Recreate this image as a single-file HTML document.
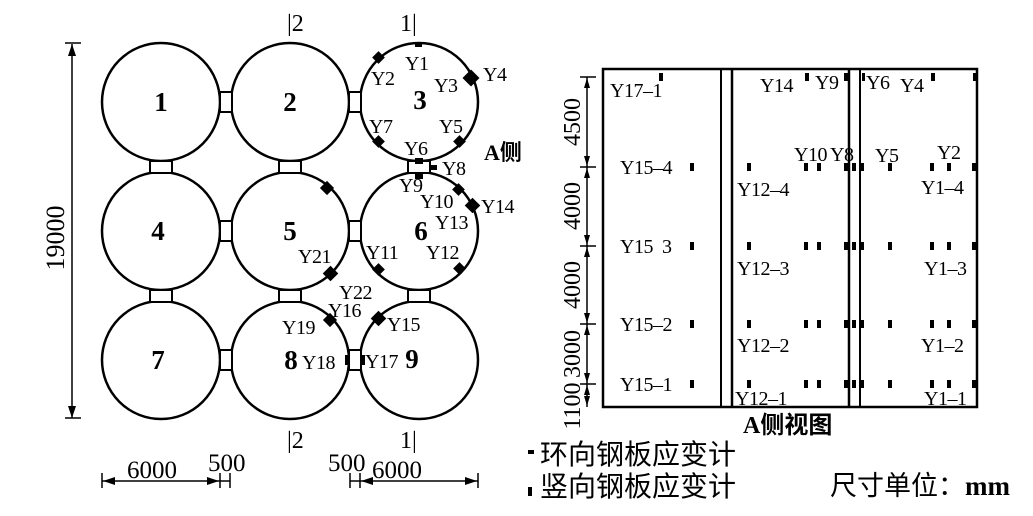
<!DOCTYPE html>
<html><head><meta charset="utf-8"><style>
html,body{margin:0;padding:0;background:#fff;}
svg{display:block;}
text{font-family:"Liberation Serif","Noto Serif CJK SC",serif;fill:#000;}
.n{font-size:27px;font-weight:bold;}
.l{font-size:20px;letter-spacing:-0.5px;}
.d{font-size:24px;}
.c{font-family:"Liberation Serif","Noto Sans CJK SC",sans-serif;font-size:22px;}
</style></head><body>
<svg width="1033" height="516" viewBox="0 0 1033 516" xmlns="http://www.w3.org/2000/svg">
<g fill="none" stroke="#000" stroke-width="2.5">
<circle cx="161" cy="102" r="59"/><circle cx="290" cy="102" r="59"/><circle cx="419" cy="102" r="59"/>
<circle cx="161" cy="231" r="59"/><circle cx="290" cy="231" r="59"/><circle cx="419" cy="231" r="59"/>
<circle cx="161" cy="360" r="59"/><circle cx="290" cy="360" r="59"/><circle cx="419" cy="360" r="59"/>
</g>
<g fill="#fff" stroke="#000" stroke-width="2">
<rect x="220" y="92" width="12" height="20"/><rect x="349" y="92" width="12" height="20"/>
<rect x="220" y="221" width="12" height="20"/><rect x="349" y="221" width="12" height="20"/>
<rect x="220" y="350" width="12" height="20"/><rect x="349" y="350" width="12" height="20"/>
<rect x="150" y="161" width="22" height="12"/><rect x="279" y="161" width="22" height="12"/><rect x="408" y="161" width="22" height="12"/>
<rect x="150" y="290" width="22" height="12"/><rect x="279" y="290" width="22" height="12"/><rect x="408" y="290" width="22" height="12"/>
</g>
<g class="n" text-anchor="middle">
<text x="161" y="111">1</text><text x="290" y="111">2</text><text x="420" y="109">3</text>
<text x="158" y="240">4</text><text x="290" y="240">5</text><text x="421" y="240">6</text>
<text x="158" y="369">7</text><text x="291" y="369">8</text><text x="412" y="368">9</text>
</g>
<g fill="#000">
<rect x="415" y="42" width="7" height="5"/>
<rect x="374" y="53" width="9" height="9" transform="rotate(45 378.5 57.5)"/>
<rect x="465" y="72" width="12" height="12" transform="rotate(45 471 78)"/>
<rect x="374" y="137" width="9" height="9" transform="rotate(45 378.5 141.5)"/>
<rect x="455" y="137" width="9" height="9" transform="rotate(45 459.5 141.5)"/>
<rect x="415" y="158" width="8" height="6"/>
<rect x="431" y="165" width="6" height="5"/>
<rect x="415" y="173" width="8" height="6"/>
<rect x="454" y="185" width="9" height="9" transform="rotate(45 458.5 189.5)"/>
<rect x="467" y="200" width="11" height="11" transform="rotate(45 472.5 205.5)"/>
<rect x="374" y="265" width="9" height="9" transform="rotate(45 378.5 269.5)"/>
<rect x="455" y="264" width="9" height="9" transform="rotate(45 459.5 268.5)"/>
<rect x="373" y="313" width="11" height="11" transform="rotate(45 378.5 318.5)"/>
<rect x="322" y="183" width="10" height="10" transform="rotate(45 327 188)"/>
<rect x="325" y="268" width="11" height="11" transform="rotate(45 330.5 273.5)"/>
<rect x="325" y="315" width="10" height="10" transform="rotate(45 330 320)"/>
<rect x="345" y="355" width="4" height="10"/><rect x="361" y="355" width="4" height="10"/>
</g>
<g class="l">
<text x="405" y="70">Y1</text><text x="371" y="85">Y2</text><text x="434" y="92">Y3</text><text x="483" y="81">Y4</text>
<text x="439" y="133">Y5</text><text x="404" y="155">Y6</text><text x="369" y="133">Y7</text><text x="442" y="175">Y8</text>
<text x="399" y="192">Y9</text><text x="420" y="208">Y10</text><text x="435" y="229">Y13</text><text x="481" y="213">Y14</text>
<text x="366" y="259">Y11</text><text x="426" y="259">Y12</text>
<text x="298" y="263">Y21</text><text x="339" y="299">Y22</text><text x="328" y="317">Y16</text>
<text x="282" y="334">Y19</text><text x="387" y="331">Y15</text><text x="302" y="369">Y18</text><text x="365" y="368">Y17</text>
</g>
<text x="484" y="160" style="font-size:22px;font-weight:bold" class="c">A侧</text>
<g class="d">
<text x="287" y="31">|2</text><text x="287" y="448">|2</text>
<text x="400" y="31">1|</text><text x="400" y="448">1|</text>
</g>
<g stroke="#000" stroke-width="1.5" fill="none">
<line x1="72" y1="44" x2="72" y2="418"/><line x1="65" y1="43" x2="81" y2="43"/><line x1="65" y1="418" x2="81" y2="418"/>
<line x1="102" y1="481" x2="220" y2="481"/><line x1="102" y1="473" x2="102" y2="488"/><line x1="220" y1="473" x2="220" y2="488"/><line x1="230" y1="473" x2="230" y2="488"/><line x1="220" y1="481" x2="230" y2="481"/>
<line x1="350" y1="481" x2="478" y2="481"/><line x1="350" y1="473" x2="350" y2="488"/><line x1="360" y1="473" x2="360" y2="488"/><line x1="478" y1="473" x2="478" y2="488"/>
</g>
<g fill="#000">
<polygon points="72,44 68,56 76,56"/><polygon points="72,418 68,406 76,406"/>
<polygon points="103,481 115,477 115,485"/><polygon points="219,481 207,477 207,485"/>
<polygon points="361,481 373,477 373,485"/><polygon points="477,481 465,477 465,485"/>
</g>
<text x="64" y="238" text-anchor="middle" transform="rotate(-90 64 238)" style="font-size:26px">19000</text>
<g style="font-size:25px">
<text x="127" y="478">6000</text><text x="208" y="471">500</text>
<text x="328" y="471">500</text><text x="372" y="478">6000</text>
</g>
<g stroke="#000" fill="none">
<rect x="603" y="69" width="374" height="338" stroke-width="2.5"/>
<line x1="721" y1="69" x2="721" y2="407" stroke-width="2"/><line x1="732" y1="69" x2="732" y2="407" stroke-width="2.5"/>
<line x1="849" y1="69" x2="849" y2="407" stroke-width="2.5"/><line x1="860" y1="69" x2="860" y2="407" stroke-width="2"/>
<line x1="587" y1="77" x2="587" y2="407" stroke-width="1.5"/>
<line x1="580" y1="77" x2="596" y2="77" stroke-width="1.5"/><line x1="580" y1="167" x2="596" y2="167" stroke-width="1.5"/>
<line x1="580" y1="246" x2="596" y2="246" stroke-width="1.5"/><line x1="580" y1="324" x2="596" y2="324" stroke-width="1.5"/>
<line x1="580" y1="384" x2="596" y2="384" stroke-width="1.5"/>
</g>
<g fill="#000">
<polygon points="587,78 584,88 590,88"/><polygon points="587,166 584,156 590,156"/>
<polygon points="587,168 584,178 590,178"/><polygon points="587,245 584,235 590,235"/>
<polygon points="587,247 584,257 590,257"/><polygon points="587,323 584,313 590,313"/>
<polygon points="587,325 584,335 590,335"/><polygon points="587,383 584,373 590,373"/>
<polygon points="587,385 584,395 590,395"/><polygon points="587,406 584,396 590,396"/>
</g>
<g text-anchor="middle" style="font-size:24px">
<text transform="translate(580 122) rotate(-90)">4500</text>
<text transform="translate(580 206) rotate(-90)">4000</text>
<text transform="translate(580 285) rotate(-90)">4000</text>
<text transform="translate(580 354) rotate(-90)">3000</text>
<text transform="translate(580 406) rotate(-90)">1100</text>
</g>
<g fill="#000">
<rect x="659" y="73" width="4" height="8"/><rect x="805" y="73" width="4" height="8"/><rect x="844" y="73" width="4" height="8"/>
<rect x="862" y="73" width="3" height="8"/><rect x="931" y="73" width="4" height="8"/><rect x="973" y="73" width="4" height="8"/>
<rect x="690" y="163" width="4" height="8"/><rect x="690" y="242" width="4" height="8"/><rect x="690" y="320" width="4" height="8"/><rect x="690" y="380" width="4" height="8"/>
</g>
<g fill="#000" id="row">
<rect x="747" y="163" width="4" height="8"/><rect x="804" y="163" width="4" height="8"/><rect x="817" y="163" width="4" height="8"/>
<rect x="844" y="163" width="4" height="8"/><rect x="852" y="163" width="4" height="8"/><rect x="860" y="163" width="4" height="8"/>
<rect x="888" y="163" width="4" height="8"/><rect x="930" y="163" width="4" height="8"/><rect x="947" y="163" width="4" height="8"/><rect x="972" y="163" width="4" height="8"/>
</g>
<use href="#row" y="79"/><use href="#row" y="157"/><use href="#row" y="217"/>
<g class="l">
<text x="610" y="97">Y17–1</text><text x="760" y="92">Y14</text><text x="815" y="89">Y9</text><text x="866" y="89">Y6</text><text x="900" y="92">Y4</text>
<text x="794" y="161">Y10</text><text x="830" y="161">Y8</text><text x="875" y="162">Y5</text><text x="937" y="159">Y2</text>
<text x="620" y="174">Y15–4</text><text x="737" y="196">Y12–4</text><text x="921" y="194">Y1–4</text>
<text x="620" y="253">Y15&#160;&#160;3</text><text x="737" y="275">Y12–3</text><text x="924" y="275">Y1–3</text>
<text x="620" y="331">Y15–2</text><text x="737" y="352">Y12–2</text><text x="921" y="352">Y1–2</text>
<text x="620" y="391">Y15–1</text><text x="735" y="405">Y12–1</text><text x="924" y="405">Y1–1</text>
</g>
<text x="743" y="433" class="c" style="font-weight:bold;font-size:24px">A侧视图</text>
<rect x="528" y="450" width="6" height="4" fill="#000"/>
<rect x="528" y="487" width="4" height="9" fill="#000"/>
<text x="540" y="464" class="c" style="font-size:28px">环向钢板应变计</text>
<text x="540" y="496" class="c" style="font-size:28px">竖向钢板应变计</text>
<text x="830" y="495" class="c" style="font-size:27px">尺寸单位：<tspan style="font-weight:bold">mm</tspan></text>
</svg>
</body></html>
